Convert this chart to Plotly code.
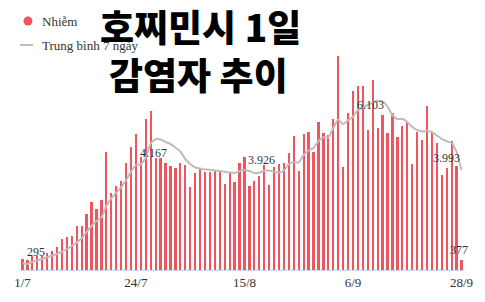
import plotly.graph_objects as go
import pandas as pd

dates = pd.date_range("2021-07-01", "2021-09-28", freq="D")

cases = [418, 380, 532, 543, 545, 657, 722, 874, 1167, 1254,
         1303, 1683, 1690, 2128, 2584, 2307, 2660, 4484, 2926, 3181,
         3393, 4055, 4685, 5179, 4305, 5749, 6053, 4267, 4270, 4077,
         3971, 3876, 4080, 3979, 3165, 3697, 3827, 3735, 3740, 3789,
         3713, 3268, 3675, 3355, 4055, 4305, 3192, 3393, 3572, 3990,
         3230, 3903, 4017, 4055, 4435, 5092, 3773, 5157, 5244, 4484,
         5635, 5217, 5130, 5738, 8151, 3925, 5977, 6813, 7003, 7010,
         5320, 7220, 5385, 5890, 5217, 5985, 5065, 5472, 5624, 4028,
         5255, 4940, 6232, 5206, 4826, 3610, 3887, 4902, 3952, 377]

avg7 = [255, 228, 315, 361, 418, 479, 543, 608, 695, 798,
        912, 1045, 1205, 1444, 1672, 1862, 2003, 2432, 2725, 2937,
        3143, 3420, 3735, 3990, 4017, 4256, 4815, 4967, 4960, 4864,
        4788, 4655, 4503, 4218, 4028, 3895, 3857, 3819, 3811, 3781,
        3762, 3735, 3705, 3686, 3754, 3800, 3762, 3675, 3697, 3773,
        3781, 3735, 3697, 3781, 4028, 4104, 4090, 4370, 4541, 4636,
        4902, 5035, 5043, 5396, 5719, 5548, 5681, 5825, 6080, 6175,
        6270, 6365, 6433, 6403, 6213, 5890, 5738, 5745, 5624, 5434,
        5320, 5263, 5274, 5244, 5111, 4978, 4894, 4826, 4484, 3800]

tick_dates = ["2021-07-01", "2021-07-24", "2021-08-15", "2021-09-06", "2021-09-28"]
tick_labels = ["1/7", "24/7", "15/8", "6/9", "28/9"]

label_x = ["2021-07-03 19:00", "2021-07-27 14:00", "2021-08-18 12:00",
           "2021-09-09 14:00", "2021-09-25 00:00", "2021-09-27 10:00"]
label_y = [684, 4446, 4180, 6270, 4245, 760]
label_text = ["295", "4.167", "3.926", "6.103", "3.993", "377"]

title_lines = ["호찌민시 1일", "감염자 추이"]
legend_names = ["Nhiễm", "Trung bình 7 ngày"]

W, H = 485, 302
ML, MR, MT, MB = 20, 17, 40, 32
PW, PH = W - ML - MR, H - MT - MB


def px(x):
    return (x - ML) / PW


def py(y):
    return (H - MB - y) / PH


RED = "#f0545e"
GRAY = "#bdbdbd"
TXT = "#333333"
SERIF = "Liberation Serif, DejaVu Serif, serif"

fig = go.Figure()
fig.add_trace(go.Bar(x=dates, y=cases, marker=dict(color=RED, line=dict(width=0)),
                     width=0.45 * 86400000, showlegend=False, hoverinfo="skip"))
fig.add_trace(go.Scatter(x=dates, y=avg7, mode="lines",
                         line=dict(color=GRAY, width=2, shape="spline", smoothing=0.5),
                         showlegend=False, hoverinfo="skip"))

annotations = []
for lx, ly, lt in zip(label_x, label_y, label_text):
    annotations.append(dict(x=lx, y=ly, xref="x", yref="y", text=lt, showarrow=False,
                            font=dict(family=SERIF, size=12, color=TXT),
                            xanchor="center", yanchor="middle"))

# legend
annotations.append(dict(x=px(40), y=py(21), xref="paper", yref="paper", text=legend_names[0],
                        showarrow=False, xanchor="left", yanchor="middle",
                        font=dict(family=SERIF, size=13, color=TXT)))
annotations.append(dict(x=px(40), y=py(45), xref="paper", yref="paper", text=legend_names[1],
                        showarrow=False, xanchor="left", yanchor="middle",
                        font=dict(family=SERIF, size=13, color=TXT)))
# title
annotations.append(dict(x=px(202), y=py(26), xref="paper", yref="paper", text=title_lines[0],
                        showarrow=False, xanchor="center", yanchor="middle",
                        font=dict(family="Noto Sans CJK KR", size=37, color="#000000", weight=900)))
annotations.append(dict(x=px(200), y=py(74), xref="paper", yref="paper", text=title_lines[1],
                        showarrow=False, xanchor="center", yanchor="middle",
                        font=dict(family="Noto Sans CJK KR", size=37, color="#000000", weight=900)))

shapes = [
    dict(type="circle", xref="paper", yref="paper", x0=px(23.5), x1=px(32.5),
         y0=py(25.5), y1=py(16.5), fillcolor=RED, line=dict(width=0)),
    dict(type="line", xref="paper", yref="paper", x0=px(20), x1=px(33),
         y0=py(45), y1=py(45), line=dict(color=GRAY, width=2)),
]

fig.update_layout(
    width=W, height=H,
    margin=dict(l=ML, r=MR, t=MT, b=MB, pad=0),
    paper_bgcolor="white", plot_bgcolor="white",
    bargap=0,
    xaxis=dict(type="date", range=["2021-06-30 12:00", "2021-09-28 12:00"],
               tickvals=tick_dates, ticktext=tick_labels, showgrid=False, zeroline=False,
               showline=True, linecolor="#ccd6eb", linewidth=1, ticks="",
               tickfont=dict(family=SERIF, size=13, color=TXT)),
    yaxis=dict(range=[0, PH * 38], visible=False, showgrid=False, zeroline=False),
    annotations=annotations, shapes=shapes,
    showlegend=False,
)

fig.write_html("out.html")
